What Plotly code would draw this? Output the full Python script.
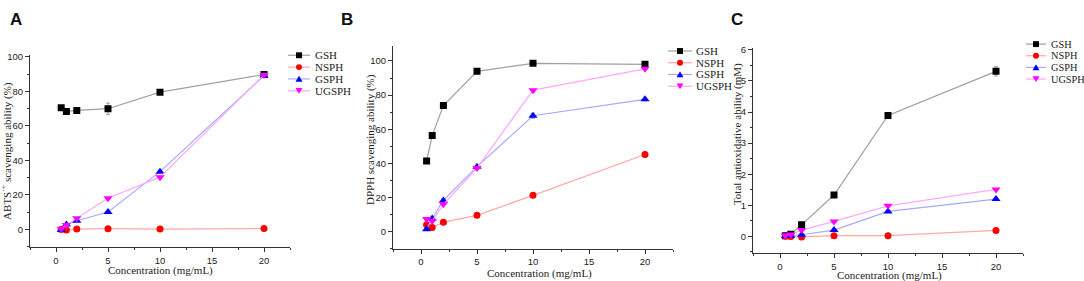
import plotly.graph_objects as go

conc = [0.5, 1, 2, 5, 10, 20]
series = ["GSH", "NSPH", "GSPH", "UGSPH"]

# Panel A: ABTS scavenging ability (%)
abts_gsh = [70.5, 68.4, 69.0, 70.0, 79.6, 89.8]
abts_nsph = [0.0, -0.3, 0.2, 0.4, 0.2, 0.5]
abts_gsph = [-0.3, 2.8, 5.0, 10.1, 33.5, 89.1]
abts_ugsph = [0.3, 2.5, 6.5, 18.1, 30.3, 89.6]
abts_gsh_err = [0.5, 0.5, 0.5, 3.3, 0.6, 0.6]

# Panel B: DPPH scavenging ability (%)
dpph_gsh = [41.4, 56.3, 73.9, 93.9, 98.6, 98.0]
dpph_nsph = [4.0, 2.4, 5.6, 9.6, 21.3, 45.2]
dpph_gsph = [1.4, 7.7, 18.3, 38.1, 67.9, 77.5]
dpph_ugsph = [7.5, 6.2, 16.0, 37.3, 82.9, 95.4]
dpph_gsh_err = [1.2, 0.5, 0.5, 0.5, 0.8, 0.6]
dpph_gsph_err = [0.5, 1.0, 1.0, 0.8, 1.5, 0.8]

# Panel C: Total antioxidative ability (mM)
tac_gsh = [0.02, 0.07, 0.37, 1.33, 3.89, 5.31]
tac_nsph = [0.0, -0.01, -0.02, 0.02, 0.02, 0.19]
tac_gsph = [0.01, 0.02, 0.05, 0.20, 0.80, 1.20]
tac_ugsph = [0.03, 0.06, 0.20, 0.48, 0.98, 1.51]
tac_gsh_err = [0.01, 0.01, 0.03, 0.04, 0.04, 0.15]

panel_letters = ["A", "B", "C"]
y_titles = ["ABTS<sup>·+</sup> scavenging ability (%)",
            "DPPH scavenging ability (%)",
            "Total antioxidative ability (mM)"]
x_title = "Concentration (mg/mL)"

marker_colors = ["#000000", "#ff0000", "#0000ff", "#ff00ff"]
line_colors = ["#a0a0a0", "#ffa8a8", "#a8a8ff", "#ffa8ff"]
symbols = ["square", "circle", "triangle-up", "triangle-down"]
marker_sizes = [7, 7, 8, 8]

panels = [
    ([abts_gsh, abts_nsph, abts_gsph, abts_ugsph], [abts_gsh_err, None, None, None]),
    ([dpph_gsh, dpph_nsph, dpph_gsph, dpph_ugsph], [dpph_gsh_err, None, dpph_gsph_err, None]),
    ([tac_gsh, tac_nsph, tac_gsph, tac_ugsph], [tac_gsh_err, None, None, None]),
]

FW, FH = 1084, 281

def fx(px):
    return px / FW

def fy(py):
    return (FH - py) / FH

# layout geometry (window pixels)
plot_boxes = [  # left, right, top, bottom
    (30, 290, 52, 247),
    (393, 673, 42.7, 248.3),
    (753, 1023, 45, 253),
]
y_ranges = [[-10.5, 101], [-10, 108.7], [-0.55, 6.05]]
y_dticks = [(20, 10), (20, 10), (1, 0.5)]
ytitle_pos = [(7, 149), (370, 138), (737, 132)]
xtitle_pos = [(161, 270), (539, 273), (889, 275.5)]
letter_pos = [(15.5, 16), (347, 16), (737, 16)]
legend_pos = [  # line start, line end, text start, first row y, row step, font size
    (288, 310, 313, 52, 12, 11),
    (668, 692, 694, 47.7, 11.9, 11),
    (1026, 1046, 1049, 40.7, 11.8, 10.3),
]

fig = go.Figure()
for p, (vals, errs) in enumerate(panels):
    xa = "x" if p == 0 else f"x{p+1}"
    ya = "y" if p == 0 else f"y{p+1}"
    for i, name in enumerate(series):
        err = errs[i]
        fig.add_trace(go.Scatter(
            x=conc, y=vals[i], name=name, mode="lines+markers",
            xaxis=xa, yaxis=ya, showlegend=False,
            line=dict(color=line_colors[i], width=1.2),
            marker=dict(symbol=symbols[i], color=marker_colors[i], size=marker_sizes[i],
                        line=dict(width=0)),
            error_y=(dict(type="data", array=err, color="#888888", thickness=0.8, width=2)
                     if err is not None else None),
        ))

tickfont = dict(family="Liberation Sans", size=9.5, color="#222")
titlefont = dict(family="Liberation Serif", size=11, color="#222")

layout = dict(width=FW, height=FH, margin=dict(l=0, r=0, t=0, b=0),
              plot_bgcolor="white", paper_bgcolor="white")
for p in range(3):
    l, r, t, b = plot_boxes[p]
    sx = "" if p == 0 else str(p + 1)
    layout["xaxis" + sx] = dict(
        domain=[fx(l), fx(r)], anchor="y" + sx, range=[-2.5, 22.5],
        tickvals=[0, 5, 10, 15, 20], showline=True, linecolor="#333", linewidth=1,
        ticks="outside", ticklen=4, tickcolor="#333", tickfont=tickfont,
        minor=dict(dtick=2.5, tick0=0, ticks="outside", ticklen=2, tickcolor="#333"),
        showgrid=False, zeroline=False)
    d, md = y_dticks[p]
    layout["yaxis" + sx] = dict(
        domain=[fy(b), fy(t)], anchor="x" + sx, range=y_ranges[p], dtick=d, tick0=0,
        showline=True, linecolor="#333", linewidth=1,
        ticks="outside", ticklen=4, tickcolor="#333", tickfont=tickfont,
        minor=dict(dtick=md, tick0=0, ticks="outside", ticklen=2, tickcolor="#333"),
        showgrid=False, zeroline=False)
fig.update_layout(**layout)

# axis titles and panel letters
for p in range(3):
    x, y = ytitle_pos[p]
    fig.add_annotation(text=y_titles[p], x=fx(x), y=fy(y), xref="paper", yref="paper",
                       showarrow=False, textangle=-90, font=titlefont,
                       xanchor="center", yanchor="middle")
    x, y = xtitle_pos[p]
    fig.add_annotation(text=x_title, x=fx(x), y=fy(y), xref="paper", yref="paper",
                       showarrow=False, font=titlefont, xanchor="center", yanchor="middle")
    x, y = letter_pos[p]
    fig.add_annotation(text=f"<b>{panel_letters[p]}</b>", x=fx(x), y=fy(y),
                       xref="paper", yref="paper", showarrow=False,
                       font=dict(family="Liberation Sans", size=17, color="#111"),
                       xanchor="center", yanchor="middle")

# legends (key line, marker, name)
def marker_shape(sym, cx, cy, s, color):
    h = s / 2
    if sym == "square":
        return dict(type="rect", x0=fx(cx - h), x1=fx(cx + h), y0=fy(cy + h), y1=fy(cy - h),
                    fillcolor=color, line=dict(width=0))
    if sym == "circle":
        return dict(type="circle", x0=fx(cx - h), x1=fx(cx + h), y0=fy(cy + h), y1=fy(cy - h),
                    fillcolor=color, line=dict(width=0))
    if sym == "triangle-up":
        pts = [(cx - h, cy + h * 0.8), (cx + h, cy + h * 0.8), (cx, cy - h * 0.9)]
    else:
        pts = [(cx - h, cy - h * 0.8), (cx + h, cy - h * 0.8), (cx, cy + h * 0.9)]
    path = "M " + " L ".join(f"{fx(a):.6f},{fy(b):.6f}" for a, b in pts) + " Z"
    return dict(type="path", path=path, fillcolor=color, line=dict(width=0))

for p in range(3):
    x0, x1, xt, ystart, step, fsize = legend_pos[p]
    legfont = dict(family="Liberation Serif", size=fsize, color="#222")
    for i, name in enumerate(series):
        yy = ystart + i * step
        fig.add_shape(type="line", x0=fx(x0), x1=fx(x1), y0=fy(yy), y1=fy(yy),
                      xref="paper", yref="paper", line=dict(color=line_colors[i], width=1.2))
        shp = marker_shape(symbols[i], (x0 + x1) / 2, yy, marker_sizes[i] - 1, marker_colors[i])
        shp.update(xref="paper", yref="paper")
        fig.add_shape(**shp)
        fig.add_annotation(text=name, x=fx(xt), y=fy(yy), xref="paper", yref="paper",
                           showarrow=False, font=legfont, xanchor="left", yanchor="middle")

fig.write_html("out.html", config={"displayModeBar": False},
               post_script="document.body.style.margin='0px';document.body.style.overflow='hidden';")
